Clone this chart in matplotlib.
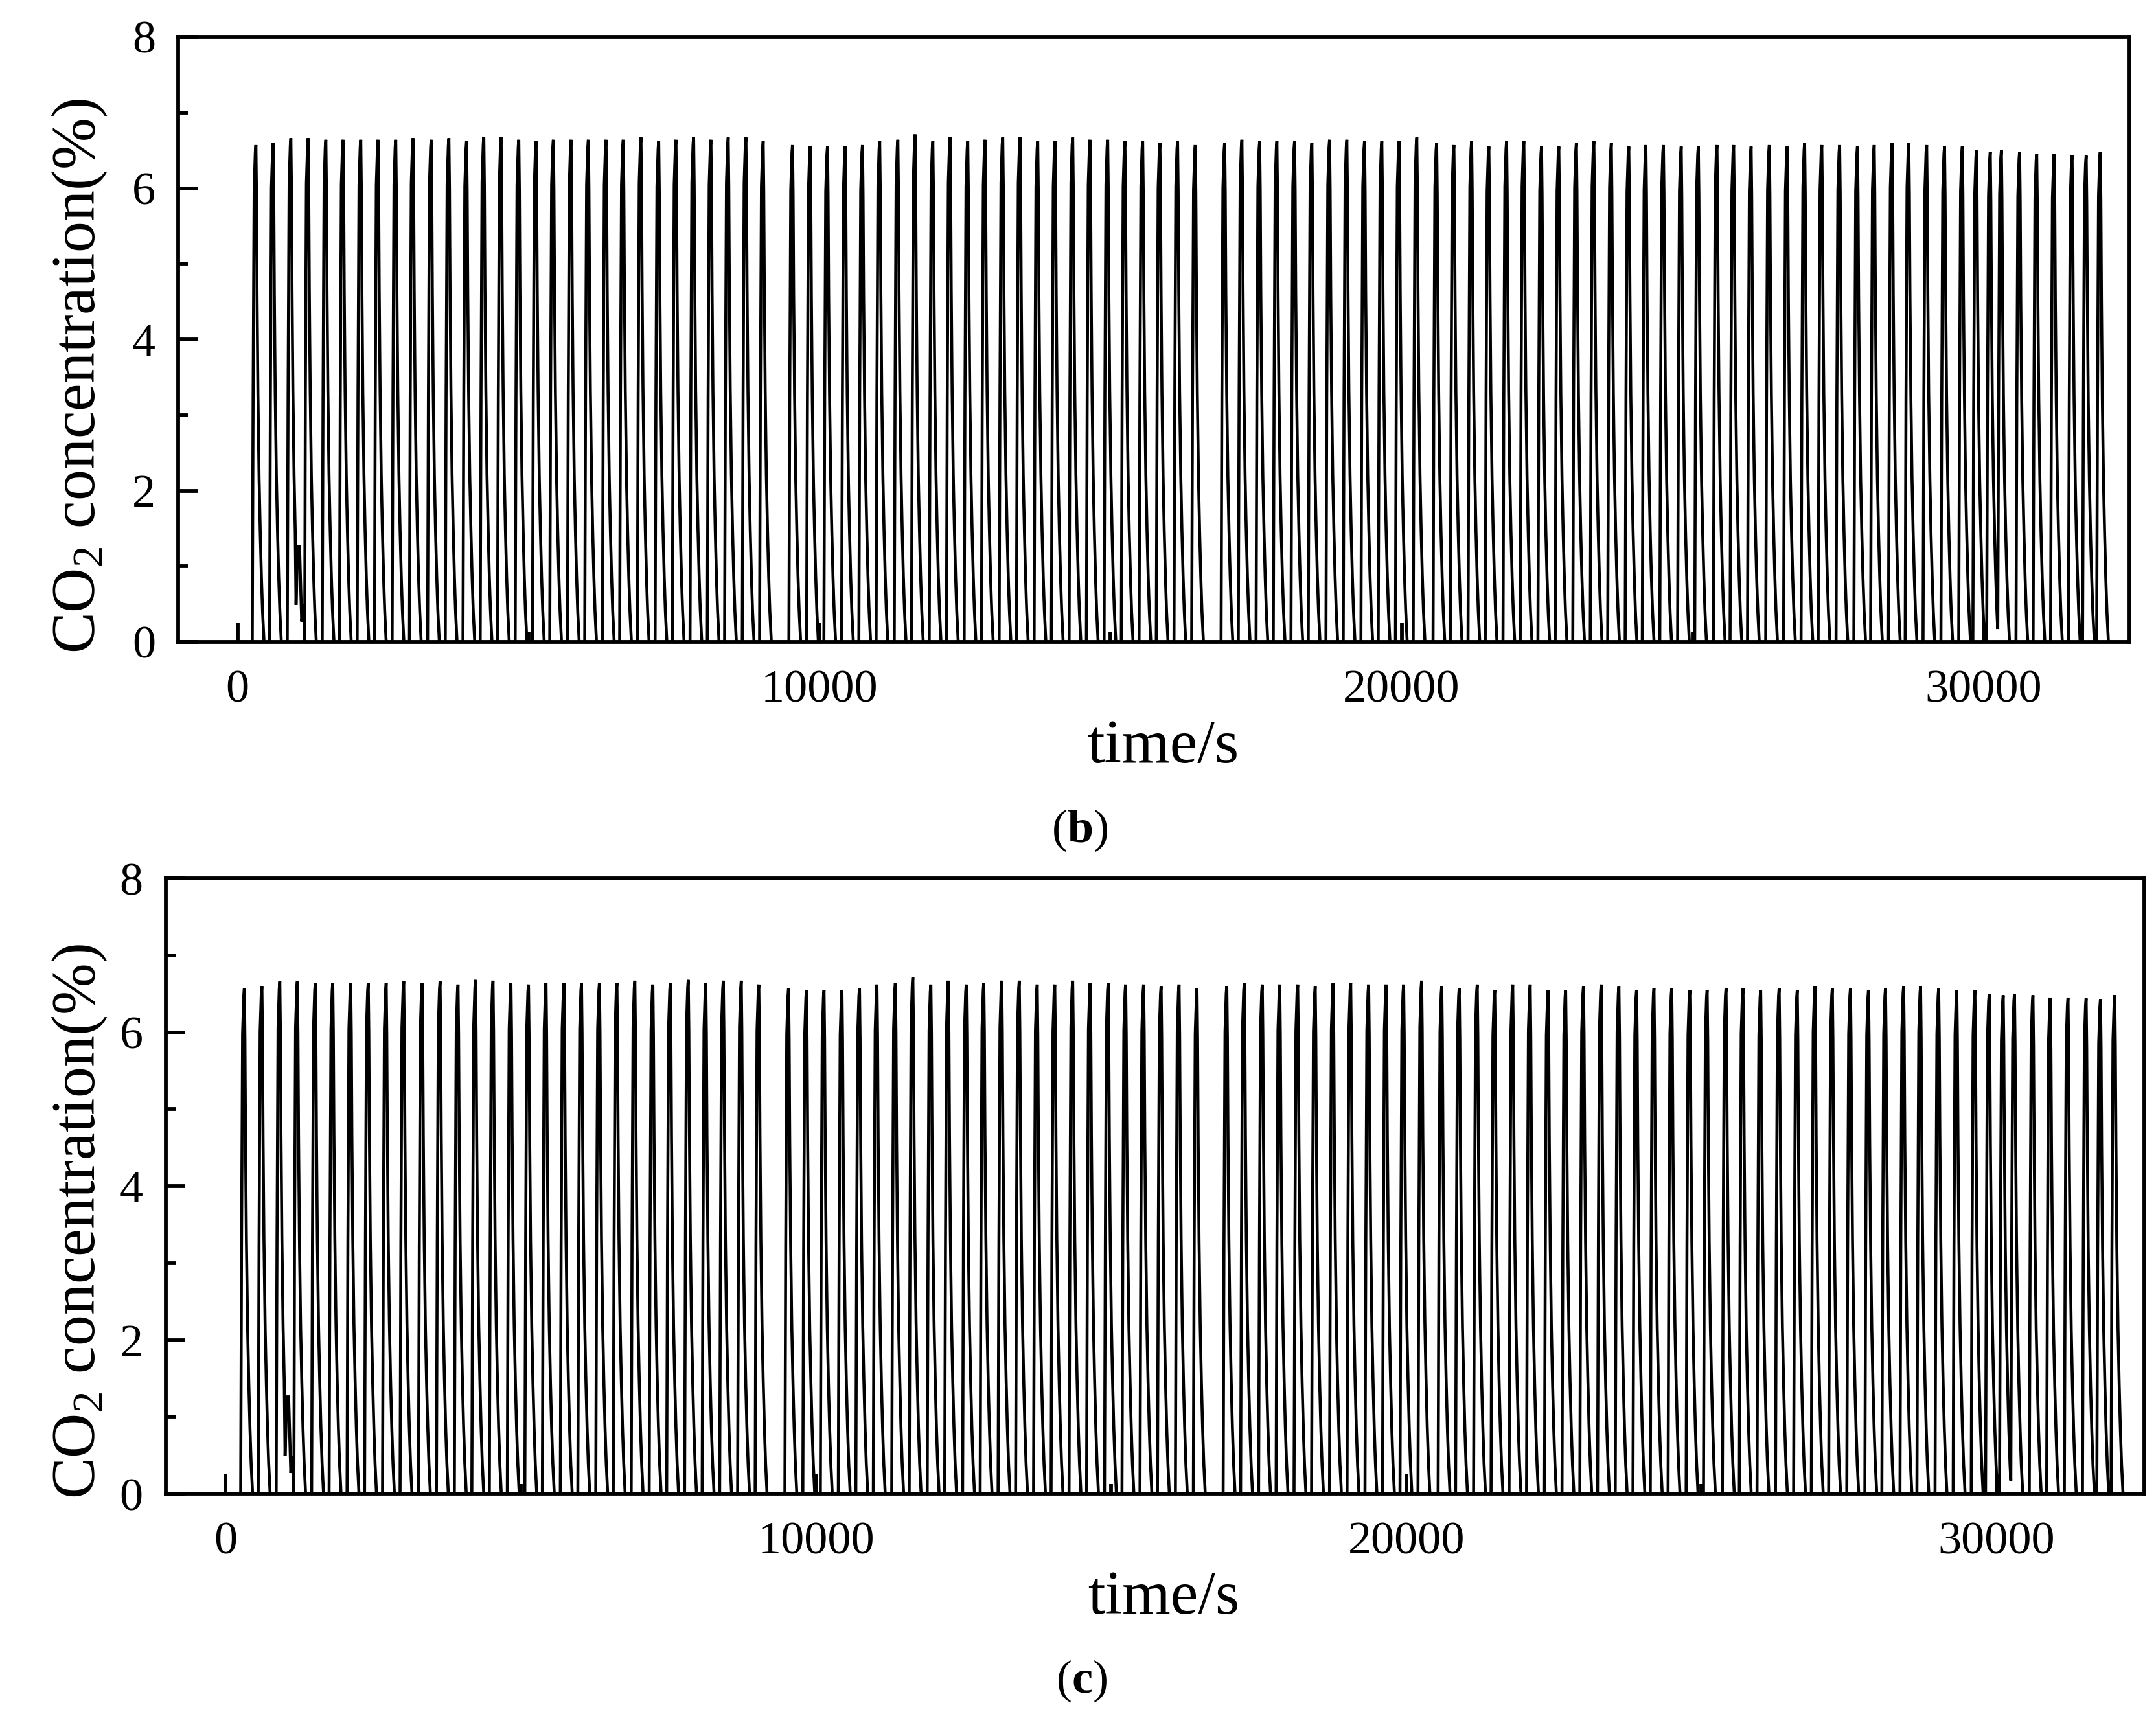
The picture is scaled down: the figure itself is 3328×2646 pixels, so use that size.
import numpy as np
import matplotlib
matplotlib.use('Agg')
import matplotlib.pyplot as plt
from matplotlib.ticker import MultipleLocator

plt.rcParams['font.family'] = ['Liberation Serif', 'DejaVu Serif']
plt.rcParams['mathtext.fontset'] = 'custom'
plt.rcParams['mathtext.rm'] = 'Liberation Serif'
plt.rcParams['mathtext.it'] = 'Liberation Serif:italic'
plt.rcParams['mathtext.bf'] = 'Liberation Serif:bold'

# ---- data ----
peak_time_s = [
    315, 612, 916, 1213, 1517, 1813, 2117, 2414, 2718, 3015, 3327, 3631, 3935, 4231,
    4528, 4832, 5129, 5426, 5730, 6027, 6331, 6627, 6931, 7236, 7532, 7836, 8133, 8430,
    8734, 9031, 9535, 9839, 10136, 10440, 10737, 11033,
    11345, 11641, 11946, 12242, 12546, 12843, 13147, 13444, 13748, 14045, 14349, 14646,
    14950, 15246, 15551, 15847, 16151, 16455, 16960, 17256, 17561, 17857, 18161, 18458,
    18762, 19059, 19363, 19660, 19956, 20261, 20602, 20898, 21203, 21499, 21804, 22100,
    22404, 22701,
    23003, 23303, 23603, 23903, 24197, 24498, 24804, 25098, 25418, 25705, 26005, 26318,
    26625, 26925, 27219, 27526, 27832, 28120, 28427, 28714, 29021, 29328, 29634, 29877,
    30114, 30305, 30618, 30912, 31212, 31519, 31762, 32004]

peak_co2 = [
    6.57, 6.60, 6.66, 6.66, 6.64, 6.64, 6.64, 6.64, 6.64, 6.66, 6.64, 6.66, 6.62, 6.68,
    6.67, 6.64, 6.62, 6.64, 6.64, 6.64, 6.64, 6.64, 6.67, 6.62, 6.64, 6.68, 6.64, 6.67,
    6.67, 6.62, 6.57, 6.55, 6.55, 6.55, 6.57, 6.62,
    6.64, 6.71, 6.62, 6.67, 6.62, 6.64, 6.67, 6.67, 6.62, 6.62, 6.67, 6.64, 6.64, 6.62,
    6.62, 6.60, 6.62, 6.57, 6.60, 6.64, 6.62, 6.62, 6.62, 6.60, 6.64, 6.64, 6.62, 6.62,
    6.62, 6.67, 6.60, 6.57, 6.62, 6.55, 6.62, 6.62, 6.55, 6.55,
    6.60, 6.62, 6.60, 6.55, 6.57, 6.57, 6.55, 6.55, 6.57, 6.57, 6.55, 6.57, 6.55, 6.60,
    6.57, 6.57, 6.55, 6.57, 6.60, 6.60, 6.57, 6.55, 6.55, 6.50, 6.48, 6.50, 6.48, 6.45,
    6.45, 6.44, 6.43, 6.48]

# shape of one cycle: time relative to the peak (s) and fraction of the peak value
cycle_offset_s = [-62, -48, -30, -10, 0, 10, 20, 35, 55, 75, 95, 115, 140]
cycle_fraction = [0.0, 0.49, 0.91, 0.985, 1.0, 0.90, 0.70, 0.50, 0.33, 0.22, 0.13, 0.06, 0.0]

# small secondary bump after the third cycle
bump_time_s = [1005, 1035, 1065, 1102, 1132, 1154]
bump_co2 = [0.49, 1.26, 1.26, 0.27, 0.49, 0.0]

x_ticks = [0, 10000, 20000, 30000]
y_ticks = [0, 2, 4, 6, 8]
panel_letters = ['b', 'c']

# ---- build the curve ----
pt = np.array(peak_time_s, dtype=float)
ph = np.array(peak_co2, dtype=float)
off = np.array(cycle_offset_s, dtype=float)
frac = np.array(cycle_fraction, dtype=float)
t_nodes = np.unique(np.concatenate([[0.0], (pt[:, None] + off[None, :]).ravel(), [32500.0]]))
y_nodes = np.zeros_like(t_nodes)
for p, h in zip(pt, ph):
    y_nodes = np.maximum(y_nodes, np.interp(t_nodes, p + off, h * frac, left=0.0, right=0.0))
bt = np.array(bump_time_s, dtype=float)
bv = np.array(bump_co2, dtype=float)
keep = (t_nodes < bt[0]) | (t_nodes > bt[-1])
t_all = np.concatenate([t_nodes[keep], bt])
y_all = np.concatenate([y_nodes[keep], bv])
order = np.argsort(t_all, kind='stable')
t_all = t_all[order]
y_all = y_all[order]

# ---- figure ----
W, H = 3329, 2646
DPI = 300
fig = plt.figure(figsize=(W / DPI, H / DPI), dpi=DPI)


def rect(x0, x1, ytop, ybot):
    return [x0 / W, 1 - ybot / H, (x1 - x0) / W, (ybot - ytop) / H]


axes = [fig.add_axes(rect(275.5, 3287, 57, 991)),
        fig.add_axes(rect(256, 3310, 1356, 2306))]

for ax in axes:
    ax.plot(t_all, y_all, color='black', lw=1.1, solid_joinstyle='miter')
    ax.set_xlim(-1015, 32505)
    ax.set_ylim(0, 8)
    ax.set_xticks(x_ticks)
    ax.set_yticks(y_ticks)
    ax.xaxis.set_minor_locator(MultipleLocator(5000))
    ax.yaxis.set_minor_locator(MultipleLocator(1))
    ax.tick_params(which='both', direction='in', top=False, right=False, width=1.4)
    ax.tick_params(which='major', length=7.2, labelsize=17.3)
    ax.tick_params(which='minor', length=3.6)
    ax.tick_params(axis='x', which='major', pad=10.3)
    ax.tick_params(axis='y', which='major', pad=8.5)
    for s in ax.spines.values():
        s.set_linewidth(1.4)


def ftext(x, y, s, **kw):
    fig.text(x / W, 1 - y / H, s, **kw)


# y labels
ftext(123, 581, r'$\mathrm{CO_2}$ concentration(%)', rotation=90, ha='center', va='center', fontsize=23)
ftext(123, 1886, r'$\mathrm{CO_2}$ concentration(%)', rotation=90, ha='center', va='center', fontsize=23)
# x labels
ftext(1795, 1177, 'time/s', ha='center', va='baseline', fontsize=23)
ftext(1796, 2491, 'time/s', ha='center', va='baseline', fontsize=23)
# panel letters
ftext(1667, 1300, r'($\mathbf{%s}$)' % panel_letters[0], ha='center', va='baseline', fontsize=17.3)
ftext(1669, 2613, r'($\mathbf{%s}$)' % panel_letters[1], ha='center', va='baseline', fontsize=17.3)

fig.savefig('out.png', dpi=DPI)
